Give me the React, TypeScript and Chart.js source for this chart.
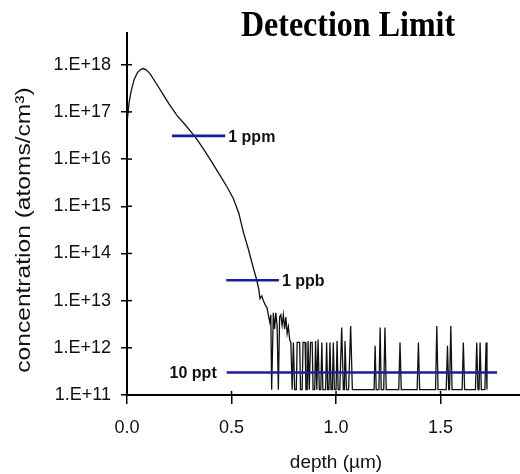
import React, { useEffect, useRef } from "react";
import { Chart, registerables } from "chart.js";

Chart.register(...registerables);

// SIMS depth profile: depth (µm) and concentration (atoms/cm³)
const depthUm = [
  0.002, 0.01, 0.02, 0.035, 0.05, 0.065, 0.078, 0.09, 0.11, 0.14, 0.174, 0.2, 0.238, 0.28, 0.325,
  0.36, 0.397, 0.445, 0.48, 0.509, 0.535, 0.557, 0.58, 0.597, 0.61, 0.62, 0.63, 0.636, 0.645,
  0.652, 0.662, 0.67, 0.676, 0.683, 0.688, 0.692, 0.7, 0.706, 0.712, 0.718, 0.724, 0.73, 0.736,
  0.742, 0.748, 0.754, 0.76, 0.766, 0.772, 0.778, 0.784, 0.79, 0.796, 0.802, 0.81, 0.814, 0.826,
  0.83, 0.838, 0.842, 0.852, 0.856, 0.862, 0.866, 0.872, 0.878, 0.886, 0.89, 0.898, 0.902, 0.908,
  0.914, 0.92, 0.927, 0.932, 0.937, 0.95, 0.955, 0.96, 0.966, 0.971, 0.976, 0.982, 0.987, 0.992,
  1.0, 1.005, 1.01, 1.018, 1.027, 1.035, 1.04, 1.043, 1.05, 1.06, 1.07, 1.078, 1.182, 1.187, 1.192,
  1.205, 1.211, 1.216, 1.228, 1.234, 1.24, 1.3, 1.306, 1.312, 1.388, 1.394, 1.4, 1.476, 1.482,
  1.488, 1.527, 1.533, 1.539, 1.543, 1.549, 1.555, 1.603, 1.609, 1.615, 1.667, 1.673, 1.679,
  1.684, 1.689, 1.695, 1.712, 1.718, 1.722,
];

const concentration = [
  7.1e16, 1.58e17, 2.8e17, 5.0e17, 6.8e17, 7.9e17, 8.3e17, 7.9e17, 6.5e17, 4.0e17, 2.3e17, 1.5e17,
  8.5e16, 5.2e16, 3.0e16, 1.8e16, 1.0e16, 4.5e15, 2.5e15, 1.45e15, 7.1e14, 2.8e14, 1.26e14, 6.5e13,
  4.0e13, 2.8e13, 1.8e13, 1.1e13, 1.26e13, 1.0e13, 8e12, 7e12, 5e12, 3.5e12, 5e12, 1.3e11, 5.5e12,
  2.5e12, 5.5e12, 3e12, 1.3e11, 4.5e12, 5e12, 3e12, 5e12, 2.5e12, 4.5e12, 2e12, 2.8e12, 1.5e12,
  1.3e12, 1.3e11, 1.3e12, 1.3e11, 1.3e11, 1.3e12, 1.3e12, 1.3e11, 1.3e11, 1.3e12, 1.3e12, 1.3e11,
  1.3e11, 1.4e12, 1.3e11, 1.3e12, 1.3e12, 1.3e11, 1.3e11, 1.4e12, 1.3e11, 1.5e12, 1.3e11, 1.3e11,
  1.3e12, 1.3e11, 1.3e11, 1.3e12, 1.3e11, 1.3e11, 1.3e12, 1.3e11, 1.3e11, 1.3e12, 1.3e11, 1.3e11,
  1.4e12, 1.3e11, 1.3e11, 2.7e12, 1.3e11, 1.3e11, 1.4e12, 1.3e11, 1.3e11, 2.9e12, 1.3e11, 1.3e11,
  1.1e12, 1.3e11, 1.3e11, 2.7e12, 1.3e11, 1.3e11, 2.7e12, 1.3e11, 1.3e11, 1.3e12, 1.3e11, 1.3e11,
  1.3e12, 1.3e11, 1.3e11, 2.9e12, 1.3e11, 1.3e11, 1.1e12, 1.3e11, 1.3e11, 2.9e12, 1.3e11, 1.3e11,
  1.3e12, 1.3e11, 1.3e11, 1.3e12, 1.3e11, 1.3e11, 1.3e12, 1.3e11, 1.3e11, 1.3e12, 1.3e11,
];

// Detection limit markers
const limitNames = ["1 ppm", "1 ppb", "10 ppt"];
const limitLevels = [3.1e16, 2.7e13, 3.0e11];
const limitStart = [0.215, 0.475, 0.477];
const limitEnd = [0.47, 0.727, 1.77];

const xTicks = [0, 0.5, 1.0, 1.5];
const xTickLabels = ["0.0", "0.5", "1.0", "1.5"];
const yTicks = [1e11, 1e12, 1e13, 1e14, 1e15, 1e16, 1e17, 1e18];
const yTickLabels = ["1.E+11", "1.E+12", "1.E+13", "1.E+14", "1.E+15", "1.E+16", "1.E+17", "1.E+18"];

const chartTitle = "Detection Limit";
const xTitle = "depth (µm)";
const yTitle = "concentration (atoms/cm³)";

const SANS = "'Liberation Sans', Arial, sans-serif";
const SERIF = "'Liberation Serif', 'Times New Roman', serif";
const LIMIT_BLUE = "#1c1c9c";

const decorPlugin = {
  id: "decor",
  afterDraw(chart: any) {
    const ctx = chart.ctx;
    const xs = chart.scales.x;
    const ys = chart.scales.y;
    const area = chart.chartArea;
    ctx.save();

    // inward halves of tick marks
    ctx.strokeStyle = "#000";
    ctx.lineWidth = 1.5;
    yTicks.forEach((v) => {
      const py = ys.getPixelForValue(v);
      ctx.beginPath();
      ctx.moveTo(area.left, py);
      ctx.lineTo(area.left + 5, py);
      ctx.stroke();
    });
    xTicks.forEach((v) => {
      const px = xs.getPixelForValue(v);
      ctx.beginPath();
      ctx.moveTo(px, area.bottom);
      ctx.lineTo(px, area.bottom - 4);
      ctx.stroke();
    });

    // limit labels
    ctx.fillStyle = "#111";
    ctx.font = `bold 16px ${SANS}`;
    ctx.textBaseline = "alphabetic";
    limitNames.forEach((name, i) => {
      const py = ys.getPixelForValue(limitLevels[i]) + 6;
      if (i < 2) {
        ctx.textAlign = "left";
        ctx.fillText(name, xs.getPixelForValue(limitEnd[i]) + 3, py);
      } else {
        ctx.textAlign = "right";
        ctx.fillText(name, xs.getPixelForValue(limitStart[i]) - 10, py);
      }
    });

    // chart title (slightly tall bold serif)
    ctx.save();
    ctx.fillStyle = "#000";
    ctx.font = `bold 32px ${SERIF}`;
    ctx.textAlign = "center";
    ctx.textBaseline = "alphabetic";
    ctx.translate(348, 36);
    ctx.scale(1, 1.12);
    ctx.fillText(chartTitle, 0, 0);
    ctx.restore();

    // x axis title
    ctx.fillStyle = "#111";
    ctx.textAlign = "center";
    ctx.textBaseline = "middle";
    ctx.font = `19px ${SANS}`;
    ctx.fillText(xTitle, 336, 463);

    // y axis title
    ctx.translate(24, 230);
    ctx.rotate(-Math.PI / 2);
    ctx.scale(1.17, 1);
    ctx.font = `21px ${SANS}`;
    ctx.fillText(yTitle, 0, 0);
    ctx.restore();
  },
};

export default function App() {
  const canvasRef = useRef<HTMLCanvasElement | null>(null);

  useEffect(() => {
    document.body.style.margin = "0";
    const canvas = canvasRef.current;
    if (!canvas) return;

    const limitSets = limitNames.map((name, i) => ({
      label: name,
      data: [
        { x: limitStart[i], y: limitLevels[i] },
        { x: limitEnd[i], y: limitLevels[i] },
      ],
      borderColor: LIMIT_BLUE,
      borderWidth: 2.6,
      pointRadius: 0,
      tension: 0,
    }));

    const chart = new Chart(canvas, {
      type: "line",
      data: {
        datasets: [
          ...limitSets,
          {
            label: "profile",
            data: depthUm.map((d, i) => ({ x: d, y: concentration[i] })),
            borderColor: "#111",
            borderWidth: 1.3,
            pointRadius: 0,
            tension: 0,
          },
        ],
      },
      options: {
        animation: false,
        responsive: false,
        layout: { padding: { top: 33, right: 0, left: 0, bottom: 0 } },
        plugins: {
          legend: { display: false },
          tooltip: { enabled: false },
          title: { display: false },
        },
        scales: {
          x: {
            type: "linear",
            min: 0,
            max: 1.88,
            afterFit: (s: any) => {
              s.height = 79;
            },
            afterBuildTicks: (s: any) => {
              s.ticks = xTicks.map((v) => ({ value: v }));
            },
            ticks: {
              callback: (_v: any, i: number) => xTickLabels[i],
              font: { family: SANS, size: 18 },
              color: "#111",
              padding: 13,
              maxRotation: 0,
            },
            grid: {
              drawOnChartArea: false,
              drawTicks: true,
              tickLength: 9,
              color: "#000",
              lineWidth: 1.5,
            },
            border: { display: true, color: "#000", width: 2 },
          },
          y: {
            type: "logarithmic",
            min: 1e11,
            max: 4.7e18,
            afterFit: (s: any) => {
              s.width = 127;
            },
            afterBuildTicks: (s: any) => {
              s.ticks = yTicks.map((v) => ({ value: v }));
            },
            ticks: {
              callback: (_v: any, i: number) => yTickLabels[i],
              font: { family: SANS, size: 18 },
              color: "#111",
              padding: 10,
            },
            grid: {
              drawOnChartArea: false,
              drawTicks: true,
              tickLength: 6,
              color: "#000",
              lineWidth: 1.5,
            },
            border: { display: true, color: "#000", width: 2 },
          },
        },
      },
      plugins: [decorPlugin],
    });

    return () => chart.destroy();
  }, []);

  return (
    <div style={{ width: 520, height: 474, background: "#fff" }}>
      <canvas ref={canvasRef} width={520} height={474} />
    </div>
  );
}
